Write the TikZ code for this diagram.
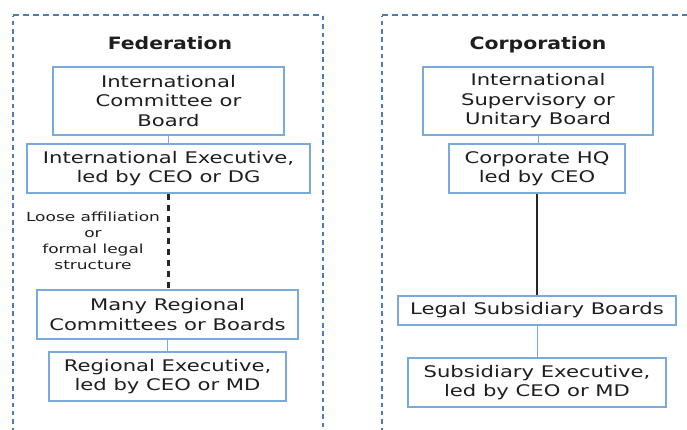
\documentclass[tikz,border=0pt]{standalone}
\usepackage{fontspec}
\setmainfont{DejaVu Sans}[FakeStretch=1.32]
\newfontfamily\titlefont{DejaVu Sans}[FakeStretch=1.2]
\newfontfamily\smallfont{DejaVu Sans}[FakeStretch=1.36]
\definecolor{boxblue}{RGB}{120,170,220}
\definecolor{frameblue}{RGB}{75,125,180}
\definecolor{txt}{RGB}{30,30,30}
\begin{document}
\begin{tikzpicture}[x=1pt,y=-1pt,
  box/.style={draw=boxblue,line width=1.4pt,align=center,text=txt,inner sep=0pt,
    font=\fontsize{16}{19.5}\selectfont},
  title/.style={font=\titlefont\bfseries\fontsize{17}{20}\selectfont,text=txt,anchor=base},
  hframe/.style={draw=frameblue,line width=1.5pt,dash pattern=on 6pt off 4pt},
  vframe/.style={draw=frameblue,line width=2pt,dash pattern=on 4.5pt off 3.8pt},
  thin/.style={draw=boxblue,line width=1pt},
  small/.style={font=\smallfont\fontsize{12.5}{16}\selectfont,text=txt,align=center}]
\useasboundingbox (0,0) rectangle (687,430);
\draw[vframe] (13,432) -- (13,16);
\draw[hframe] (13,15) -- (323,15);
\draw[vframe] (323,16) -- (323,432);
\draw[vframe] (382,432) -- (382,16);
\draw[hframe] (382,15) -- (690,15);
\node[title] (tf) at (170,50) {Federation};
\node[title] (tc) at (538,50) {Corporation};
\node[box,minimum width=231pt,minimum height=68pt] (b1) at (168.5,101) {International\\Committee or\\Board};
\node[box,minimum width=283pt,minimum height=49pt] (b2) at (168.5,168.5) {International Executive,\\led by CEO or DG};
\node[box,minimum width=261pt,minimum height=49pt] (b3) at (167.5,314.5) {Many Regional\\Committees or Boards};
\node[box,minimum width=237pt,minimum height=49pt] (b4) at (167.5,376.5) {Regional Executive,\\led by CEO or MD};
\node[small] (lbl) at (93,241) {Loose affiliation\\or\\formal legal\\structure};
\node[box,minimum width=230pt,minimum height=68pt] (r1) at (538,101) {International\\Supervisory or\\Unitary Board};
\node[box,minimum width=176pt,minimum height=49pt] (r2) at (537,168.5) {Corporate HQ\\led by CEO};
\node[box,minimum width=278pt,minimum height=29pt] (r3) at (537,310.5) {Legal Subsidiary Boards};
\node[box,minimum width=258pt,minimum height=49pt] (r4) at (537,382.5) {Subsidiary Executive,\\led by CEO or MD};
\draw[thin] (b1.south) -- (b1.south |- b2.north);
\draw[thin] (b3.south) -- (b3.south |- b4.north);
\draw[thin] (r1.south) -- (r1.south |- r2.north);
\draw[thin] (r3.south) -- (r3.south |- r4.north);
\draw[black!85,line width=2.3pt,dash pattern=on 6pt off 5pt] (b2.south) -- (b2.south |- b3.north);
\draw[black!85,line width=2.3pt] (r2.south) -- (r2.south |- r3.north);
\end{tikzpicture}
\end{document}
